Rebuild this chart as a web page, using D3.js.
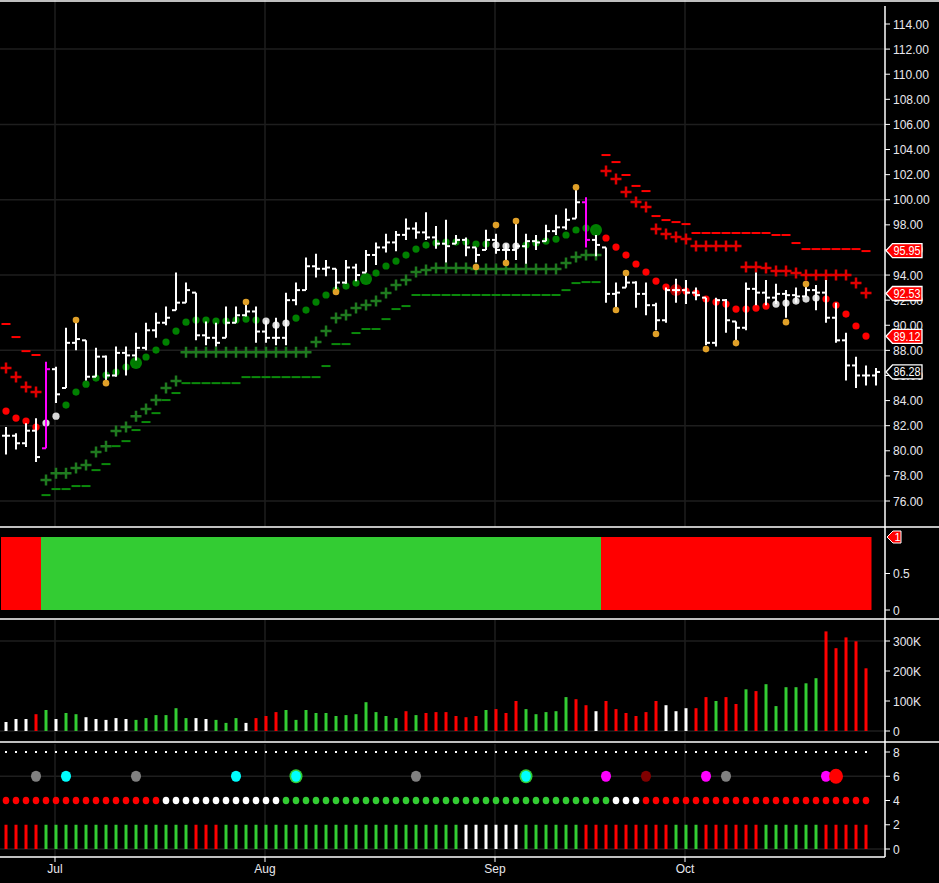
<!DOCTYPE html>
<html><head><meta charset="utf-8">
<script src="https://cdn.jsdelivr.net/npm/d3@7"></script>
<style>body{margin:0;background:#000}svg{display:block}</style>
</head><body>
<svg id="c" width="939" height="883"></svg>
<script>
// ---------- DATA ----------
const highs=[81.9,81.4,82.2,82.6,87.1,86.7,89.8,90.3,88.8,88.2,87.6,88.3,88.3,89.4,90.2,91.0,91.5,94.2,93.4,92.6,90.3,90.2,91.5,91.5,91.8,91.5,90.4,90.6,92.6,93.4,95.4,95.7,95.2,94.5,95.2,94.9,96.0,96.6,97.3,97.5,98.5,98.2,99.0,97.9,98.4,97.2,97.0,96.2,97.6,97.3,96.5,98.1,97.3,97.2,98.0,98.8,99.3,100.8,100.2,97.2,96.2,93.4,94.2,93.5,93.4,91.8,93.0,93.7,93.6,93.0,92.2,92.2,92.1,90.3,93.4,94.2,93.6,93.3,92.8,93.0,93.4,93.2,93.6,91.8,89.4,87.5,86.8,86.6];
const lows=[79.7,80.1,80.3,79.1,80.2,83.8,85.0,88.0,85.6,85.9,85.6,85.9,86.0,87.2,88.0,89.0,90.0,91.2,91.8,88.8,88.4,88.3,89.0,90.2,90.7,88.6,88.6,88.4,88.4,91.6,92.8,93.8,93.9,92.6,93.3,93.5,94.2,94.8,95.8,95.9,96.8,96.9,96.8,96.1,95.0,96.5,95.5,95.0,96.0,95.7,94.8,95.2,94.9,96.0,96.7,97.2,97.6,98.5,96.2,95.5,91.8,91.4,93.0,91.4,90.8,89.6,90.2,91.8,91.7,92.0,88.4,88.3,89.4,88.8,89.6,91.6,91.6,91.7,90.6,91.8,92.3,91.2,90.2,88.6,85.6,85.0,85.2,85.2];
const closes=[81.2,80.6,81.6,79.5,86.5,84.5,88.6,88.9,85.9,87.5,86.0,87.8,87.6,88.2,89.6,90.2,90.6,91.8,92.8,89.2,89.0,88.6,90.2,90.8,91.1,89.5,89.0,89.0,92.0,92.8,94.7,94.5,94.6,93.4,94.6,94.0,95.6,96.2,96.6,97.2,97.7,97.4,97.0,96.5,96.3,96.8,96.2,95.6,96.8,96.0,96.0,96.3,96.7,96.6,97.5,97.8,98.4,99.8,96.8,96.4,92.5,92.6,93.4,92.5,91.6,90.4,92.8,92.8,92.6,92.4,88.6,92.0,90.4,89.8,92.9,92.6,92.2,92.5,92.4,92.3,92.8,92.6,90.6,88.8,86.8,86.0,86.0,86.28];
const magentaBars=[4,58];
const trend=[83.16,82.61,82.37,81.89,82.21,82.76,83.64,84.68,85.31,85.79,86.03,86.27,86.67,86.99,87.47,88.02,88.66,89.54,90.25,90.41,90.41,90.33,90.33,90.41,90.49,90.41,90.33,90.01,90.17,90.57,91.21,91.85,92.41,92.8,93.12,93.36,93.68,94.16,94.72,95.11,95.59,96.07,96.39,96.55,96.63,96.63,96.63,96.47,96.47,96.39,96.31,96.31,96.39,96.55,96.71,96.87,97.19,97.59,97.75,97.59,96.95,96.23,95.59,94.88,94.24,93.52,93.04,92.8,92.72,92.57,92.09,91.85,91.69,91.29,91.29,91.37,91.53,91.69,91.77,91.93,92.09,92.17,92.09,91.61,90.89,89.94,89.14];
const trendState="rrrrwwggggggggggggggggggggwwwggggggggggggggggggggwwwggggggggrrrrrrrrrrrrrrrrrwwwwwrrrrr";
const trendBig=[13,36,59,67];
const longStopStart=4;
const longStop=[77.67,78.22,78.22,78.62,78.86,79.9,80.37,81.57,81.89,82.76,83.32,84.04,85.0,85.55,87.86,87.86,87.86,87.86,87.86,87.86,87.86,87.86,87.86,87.86,87.86,87.86,87.86,88.66,89.54,90.57,90.81,91.37,91.61,91.93,92.57,93.2,93.6,94.24,94.4,94.56,94.56,94.56,94.56,94.48,94.48,94.48,94.48,94.48,94.48,94.48,94.48,94.48,94.96,95.43,95.59,95.59];
const longDash=[76.47,76.95,76.95,77.19,77.19,78.46,78.94,80.37,80.77,81.65,82.29,83.0,84.04,84.6,85.39,85.39,85.39,85.39,85.39,85.39,85.87,85.87,85.87,85.87,85.87,85.87,85.87,85.87,86.75,88.5,88.5,89.38,89.7,89.7,90.49,91.29,91.53,92.41,92.41,92.41,92.41,92.41,92.41,92.41,92.41,92.41,92.41,92.41,92.41,92.41,92.41,92.41,92.8,93.36,93.44,93.44];
const shortStopA=[86.59,85.87,85.08,84.68];
const shortDashA=[90.1,89.06,87.94,87.63];
const shortStartB=60;
const shortStopB=[102.29,101.65,100.61,99.82,99.42,97.67,97.27,97.03,96.87,96.31,96.31,96.31,96.31,96.31,94.64,94.64,94.56,94.32,94.32,94.16,94.0,94.0,94.0,94.0,94.0,93.36,92.57];
const shortDashB=[103.56,103.0,101.97,101.1,100.69,98.7,98.38,98.22,98.06,97.35,97.35,97.35,97.35,97.35,97.35,97.35,97.35,97.19,97.19,96.55,96.07,96.07,96.07,96.07,96.07,96.07,95.91];
const pivots=[[7,90.41],[10,85.39],[24,91.85],[33,92.65],[47,94.64],[49,97.98],[50,94.96],[51,98.3],[57,101.0],[61,91.21],[62,94.16],[65,89.3],[70,88.1],[73,88.58],[78,90.25],[80,93.28]];
const priceTicks=[76,78,80,82,84,86,88,90,92,94,96,98,100,102,104,106,108,110,112,114];
const priceGrid=[76,82,88,94,100,106,112];
const priceTags=[[95.95,"red"],[92.53,"red"],[89.12,"red"],[86.28,"last"]];
const regime="rrrrggggggggggggggggggggggggggggggggggggggggggggggggggggggggrrrrrrrrrrrrrrrrrrrrrrrrrrr";
const volume=[30,40,40,56,70,40,60,56,46,40,37,43,40,37,43,53,53,76,43,43,40,37,27,43,27,43,50,63,70,37,70,60,60,50,53,56,96,63,50,43,66,53,60,63,63,50,46,50,70,73,60,100,73,56,63,66,113,106,86,66,100,73,60,50,63,100,86,66,76,76,113,100,113,90,139,133,156,83,146,146,159,176,332,276,312,299,209];
const volState="wwwrgwggwwwwwggggggwwgggwrrrggggggggggggrgrrrrrrgrrrgggggrrwrrrrrrwwwrrgrrgrggggggrrrrr";
const volTicks=[[0,"0"],[100,"100K"],[200,"200K"],[300,"300K"]];
const dotRow="rrrrrrrrrrrrrrrrwwwwwwwwwwwwgggggggggggggggggggggggggggggggggwwwrrrrrrrrrrrrrrrrrrrrrrr";
const barRow="rrrrgggggggggggggggrrrggggggggggggggggggggggggwwwwwwggggggrrrrrrrrrgggrrrrrrggggggrrrrr";
const events=[[3,"grey",0],[6,"cyan",0],[13,"grey",0],[23,"cyan",0],[29,"cyan",1],[41,"grey",0],[52,"cyan",1],[60,"magenta",0],[64,"darkred",0],[70,"magenta",0],[72,"grey",0],[82,"magenta",0],[83,"red",1]];
const bottomTicks=[0,2,4,6,8];
const months=[[4.9,"Jul"],[25.9,"Aug"],[48.9,"Sep"],[67.9,"Oct"]];

// ---------- DRAW ----------
const svg=d3.select("#c");
svg.append("rect").attr("width",939).attr("height",883).attr("fill","#000");
const AX=885;
const x=d3.scaleLinear().domain([0,87]).range([6,876]);
const yP=d3.scaleLinear().domain([76,114]).range([501,24]);
const yB=d3.scaleLinear().domain([0,1]).range([610,537]);
const yV=d3.scaleLinear().domain([0,300]).range([731,641]);
const yS=d3.scaleLinear().domain([0,8]).range([849,752]);
const col={r:"#ff0000",g:"#33cc33",w:"#ffffff",grey:"#808080",cyan:"#00ffff",magenta:"#ff00ff",darkred:"#800000",red:"#ff0000"};
const gridC="#1e1e1e";
const font="Liberation Sans, Arial, sans-serif";
const txtC="#e8e8ee";

const g=svg.append("g");
priceGrid.forEach(p=>g.append("line").attr("x1",0).attr("x2",AX).attr("y1",yP(p)).attr("y2",yP(p)).attr("stroke",gridC).attr("stroke-width",1.5));
[0,300].forEach(v=>g.append("line").attr("x1",0).attr("x2",AX).attr("y1",yV(v)).attr("y2",yV(v)).attr("stroke",gridC).attr("stroke-width",1.5));
[0,6].forEach(v=>g.append("line").attr("x1",0).attr("x2",AX).attr("y1",yS(v)).attr("y2",yS(v)).attr("stroke",gridC).attr("stroke-width",1.5));
months.forEach(([i])=>{
  [[0,527],[620,741],[744,857]].forEach(([a,b])=>g.append("line").attr("x1",x(i)).attr("x2",x(i)).attr("y1",a).attr("y2",b).attr("stroke",gridC).attr("stroke-width",1.5));
});

function dash(i,p,c){svg.append("line").attr("x1",x(i)-4.5).attr("x2",x(i)+4.5).attr("y1",yP(p)).attr("y2",yP(p)).attr("stroke",c).attr("stroke-width",2);}
function cross(i,p,c){const cx=x(i),cy=yP(p);
  svg.append("path").attr("d",`M${cx-5.5},${cy}H${cx+5.5}M${cx},${cy-5.5}V${cy+5.5}`).attr("stroke",c).attr("stroke-width",2.5);}
longDash.forEach((p,k)=>dash(longStopStart+k,p,"#0b8a0b"));
shortDashA.forEach((p,k)=>dash(k,p,"#ff0000"));
shortDashB.forEach((p,k)=>dash(shortStartB+k,p,"#ff0000"));
longStop.forEach((p,k)=>cross(longStopStart+k,p,"#1f7a1f"));
shortStopA.forEach((p,k)=>cross(k,p,"#e00000"));
shortStopB.forEach((p,k)=>cross(shortStartB+k,p,"#e00000"));

const tc={r:"#ff0000",w:"#d8d8d8",g:"#008000"};
trend.forEach((p,i)=>{
  const big=trendBig.includes(i);
  const c=big&&trendState[i]==="r"?"#a00000":tc[trendState[i]];
  svg.append("circle").attr("cx",x(i)).attr("cy",yP(p)).attr("r",big?6:3.6).attr("fill",c);
  if(big) svg.append("circle").attr("cx",x(i)).attr("cy",yP(p)).attr("r",3.2).attr("fill",trendState[i]==="r"?"#ff0000":"#007a00");
});

highs.forEach((h,i)=>{
  const c=magentaBars.includes(i)?"#ff00ff":"#ffffff";
  const o=i>0?closes[i-1]:closes[i];
  const oc=Math.min(Math.max(o,lows[i]),h);
  const cx=x(i);
  svg.append("line").attr("x1",cx).attr("x2",cx).attr("y1",yP(h)).attr("y2",yP(lows[i])).attr("stroke",c).attr("stroke-width",2);
  svg.append("line").attr("x1",cx-4).attr("x2",cx).attr("y1",yP(oc)).attr("y2",yP(oc)).attr("stroke",c).attr("stroke-width",2);
  svg.append("line").attr("x1",cx).attr("x2",cx+4).attr("y1",yP(closes[i])).attr("y2",yP(closes[i])).attr("stroke",c).attr("stroke-width",2);
});
pivots.forEach(([i,p])=>svg.append("circle").attr("cx",x(i)).attr("cy",yP(p)).attr("r",3.3).attr("fill","#e0a028"));

regime.split("").forEach((s,i)=>svg.append("rect").attr("x",x(i)-5).attr("width",10.5).attr("y",yB(1)).attr("height",yB(0)-yB(1)).attr("fill",s==="g"?"#33cc33":"#ff0000"));

volume.forEach((v,i)=>svg.append("rect").attr("x",x(i)-1.5).attr("width",3).attr("y",yV(v)).attr("height",yV(0)-yV(v)).attr("fill",col[volState[i]]));

dotRow.split("").forEach((s,i)=>{
  svg.append("rect").attr("x",x(i)-1).attr("y",yS(8)-1).attr("width",2).attr("height",2).attr("fill","#fff");
  svg.append("ellipse").attr("cx",x(i)).attr("cy",yS(4)).attr("rx",3.3).attr("ry",3.8).attr("fill",col[s]);
});
barRow.split("").forEach((s,i)=>svg.append("rect").attr("x",x(i)-1.5).attr("width",3).attr("y",yS(2)).attr("height",yS(0)-yS(2)).attr("fill",col[s]));
events.forEach(([i,c,big])=>{
  if(big&&c==="cyan"){svg.append("ellipse").attr("cx",x(i)).attr("cy",yS(6)).attr("rx",6.5).attr("ry",7).attr("fill","#33cc33");
    svg.append("ellipse").attr("cx",x(i)).attr("cy",yS(6)).attr("rx",4.8).attr("ry",5.5).attr("fill",col.cyan);}
  else svg.append("ellipse").attr("cx",x(i)).attr("cy",yS(6)).attr("rx",big?7:5).attr("ry",big?7.5:5.5).attr("fill",col[c]);
});

[[1,939],[527,939],[619,939],[742,939],[857,AX]].forEach(([y,x2])=>svg.append("line").attr("x1",0).attr("x2",x2).attr("y1",y).attr("y2",y).attr("stroke","#fff").attr("stroke-width",1.5));
svg.append("line").attr("x1",AX).attr("x2",AX).attr("y1",6).attr("y2",857).attr("stroke","#fff").attr("stroke-width",1.5);

function tickLab(y,t){
  svg.append("line").attr("x1",AX).attr("x2",AX+5).attr("y1",y).attr("y2",y).attr("stroke","#fff");
  svg.append("text").attr("x",AX+8).attr("y",y+4.5).attr("fill",txtC).attr("font-family",font).attr("font-size",12).text(t);
}
priceTicks.forEach(p=>tickLab(yP(p),p.toFixed(2)));
tickLab(yB(0),"0");tickLab(yB(0.5),"0.5");
volTicks.forEach(([v,t])=>tickLab(yV(v),t));
bottomTicks.forEach(v=>tickLab(yS(v),String(v)));

svg.append("path").attr("d",`M${AX+2},${yB(1)} l6,-6 h8 v12 h-8 z`).attr("fill","#ff0000").attr("stroke","#fff");
svg.append("text").attr("x",AX+9.5).attr("y",yB(1)+4).attr("fill","#fff").attr("font-family",font).attr("font-size",11).text("1");

priceTags.forEach(([p,t])=>{
  const y=yP(p);
  svg.append("path").attr("d",`M${AX+1},${y} l6.5,-7 h29.5 v14 h-29.5 z`).attr("fill",t==="red"?"#ff0000":"#000").attr("stroke","#fff").attr("stroke-width",1.3);
  svg.append("text").attr("x",AX+8.5).attr("y",y+4.3).attr("fill","#fff").attr("font-family",font).attr("font-size",12)
    .attr("textLength",27).attr("lengthAdjust","spacingAndGlyphs").text(p.toFixed(2));
});

months.forEach(([i,t])=>{
  svg.append("line").attr("x1",x(i)).attr("x2",x(i)).attr("y1",857).attr("y2",862).attr("stroke","#fff");
  svg.append("text").attr("x",x(i)).attr("y",873).attr("text-anchor","middle").attr("fill",txtC).attr("font-family",font).attr("font-size",12).text(t);
});
</script>
</body></html>
